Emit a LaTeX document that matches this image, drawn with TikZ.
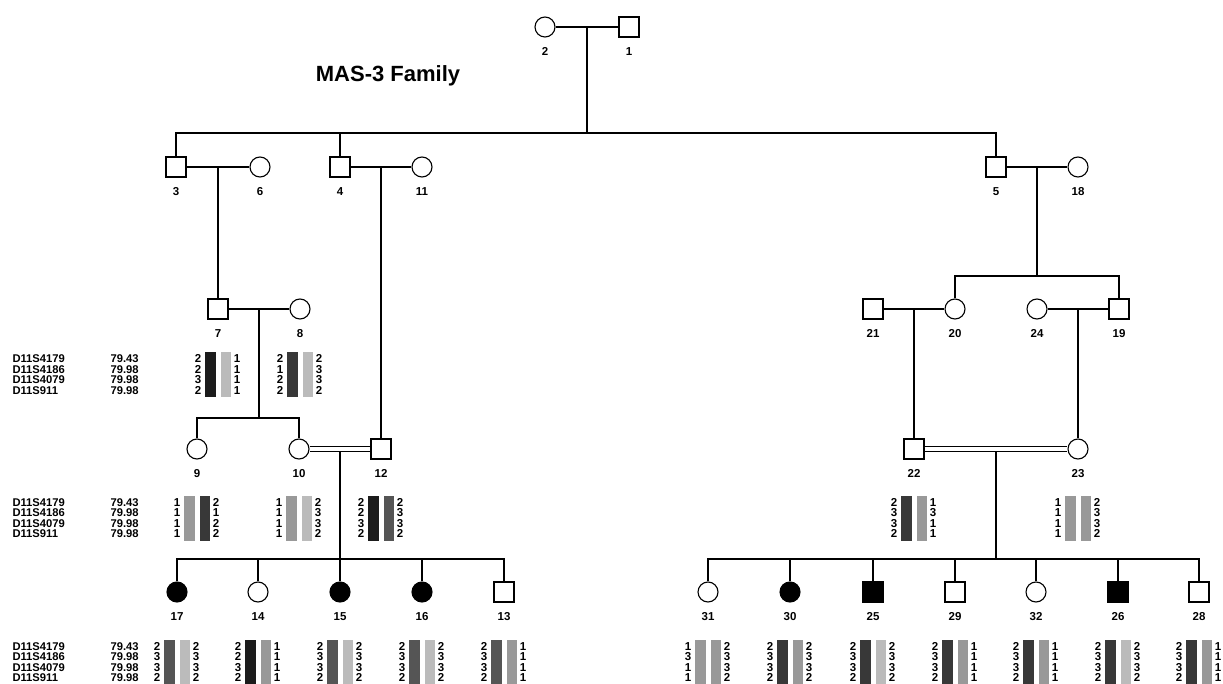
\documentclass[tikz,border=0pt]{standalone}
\usepackage{fontspec}
\setmainfont{Liberation Sans}
\usetikzlibrary{calc}

\definecolor{hapK}{HTML}{1C1C1C}
\definecolor{hapD}{HTML}{383838}
\definecolor{hapG}{HTML}{555555}
\definecolor{hapM}{HTML}{999999}
\definecolor{hapL}{HTML}{BBBBBB}

% haplotype: name, x, y, left alleles, colour 1, colour 2, right alleles
\newcommand{\haplo}[7]{%
  \foreach \a [count=\i] in {#4}
    \node[allele] (#1l\i) at (#2-20,#3+10.5*\i-26.25) {\a};
  \node[hapbar,fill=#5] (#1a) at (#2-7.5,#3) {};
  \node[hapbar,fill=#6] (#1b) at (#2+8,#3) {};
  \foreach \a [count=\i] in {#7}
    \node[allele] (#1r\i) at (#2+19,#3+10.5*\i-26.25) {\a};
}

% marker names and positions: name, y
\newcommand{\markers}[2]{%
  \foreach \mk/\cm [count=\i] in {D11S4179/79.43,D11S4186/79.98,D11S4079/79.98,D11S911/79.98}{
    \node[marker] (#1n\i) at (12,#2+10.5*\i-26.25) {\mk};
    \node[marker] (#1c\i) at (110,#2+10.5*\i-26.25) {\cm};
  }
}

\begin{document}
\begin{tikzpicture}[x=1pt,y=-1pt,line width=1.1pt,
  male/.style={draw,rectangle,minimum size=20pt,inner sep=0pt},
  female/.style={draw,circle,minimum size=20pt,inner sep=0pt},
  affected/.style={fill=black},
  every label/.style={font=\bfseries\fontsize{11.5}{12}\selectfont,inner sep=0pt},
  label distance=9pt,
  allele/.style={font=\bfseries\fontsize{11.5}{11}\selectfont,inner sep=0pt},
  marker/.style={font=\bfseries\fontsize{11.2}{11}\selectfont,inner sep=0pt,anchor=west},
  hapbar/.style={rectangle,draw=none,minimum width=10.5pt,minimum height=45pt,inner sep=0pt},
  marriage/.style={line width=1pt,double,double distance=4pt}]
\useasboundingbox (0,0) rectangle (1223,684);

\node[font=\bfseries\fontsize{22}{24}\selectfont,anchor=base west] (title) at (312,82) {MAS-3 Family};

% generation I
\node[female,label=below:2] (p2) at (545,27) {};
\node[male,label=below:1]   (p1) at (629,27) {};

% generation II
\node[male,label=below:3]    (p3)  at (176,167) {};
\node[female,label=below:6]  (p6)  at (260,167) {};
\node[male,label=below:4]    (p4)  at (340,167) {};
\node[female,label=below:11] (p11) at (422,167) {};
\node[male,label=below:5]    (p5)  at (996,167) {};
\node[female,label=below:18] (p18) at (1078,167) {};

% generation III
\node[male,label=below:7]    (p7)  at (218,309) {};
\node[female,label=below:8]  (p8)  at (300,309) {};
\node[male,label=below:21]   (p21) at (873,309) {};
\node[female,label=below:20] (p20) at (955,309) {};
\node[female,label=below:24] (p24) at (1037,309) {};
\node[male,label=below:19]   (p19) at (1119,309) {};

% generation IV
\node[female,label=below:9]  (p9)  at (197,449) {};
\node[female,label=below:10] (p10) at (299,449) {};
\node[male,label=below:12]   (p12) at (381,449) {};
\node[male,label=below:22]   (p22) at (914,449) {};
\node[female,label=below:23] (p23) at (1078,449) {};

% generation V
\node[female,affected,label=below:17] (p17) at (177,592) {};
\node[female,label=below:14]          (p14) at (258,592) {};
\node[female,affected,label=below:15] (p15) at (340,592) {};
\node[female,affected,label=below:16] (p16) at (422,592) {};
\node[male,label=below:13]            (p13) at (504,592) {};
\node[female,label=below:31]          (p31) at (708,592) {};
\node[female,affected,label=below:30] (p30) at (790,592) {};
\node[male,affected,label=below:25]   (p25) at (873,592) {};
\node[male,label=below:29]            (p29) at (955,592) {};
\node[female,label=below:32]          (p32) at (1036,592) {};
\node[male,affected,label=below:26]   (p26) at (1118,592) {};
\node[male,label=below:28]            (p28) at (1199,592) {};

% couples
\coordinate (m21)   at ($(p2)!.5!(p1)$);
\coordinate (m36)   at ($(p3)!.5!(p6)$);
\coordinate (m411)  at ($(p4)!.5!(p11)$);
\coordinate (m518)  at ($(p5)!.5!(p18)$);
\coordinate (m78)   at ($(p7)!.5!(p8)$);
\coordinate (m2120) at ($(p21)!.5!(p20)$);
\coordinate (m2419) at ($(p24)!.5!(p19)$);
\coordinate (m1012) at ($(p10)!.5!(p12)$);
\coordinate (m2223) at ($(p22)!.5!(p23)$);

% sibship lines
\coordinate (sA) at (587,133);
\coordinate (sB) at (1037,276);
\coordinate (sC) at (259,418);
\coordinate (sD) at (340,559);
\coordinate (sE) at (996,559);

\draw (p2) -- (p1);
\draw (p3) -- (p6);
\draw (p4) -- (p11);
\draw (p5) -- (p18);
\draw (p7) -- (p8);
\draw (p21) -- (p20);
\draw (p24) -- (p19);
\draw[marriage] (p10) -- (p12);
\draw[marriage] (p22) -- (p23);

\draw (m21) -- (sA);
\draw (p3.north) |- (sA) -| (p5.north);
\draw (p4.north) -- (p4.north |- sA);

\draw (m36) -- (p7.north);
\draw (m411) -- (p12.north);
\draw (m518) -- (sB);
\draw (p20.north) |- (sB) -| (p19.north);

\draw (m78) -- (sC);
\draw (p9.north) |- (sC) -| (p10.north);
\draw (m2120) -- (p22.north);
\draw (m2419) -- (p23.north);

\draw ([yshift=-2.5pt]m1012) -- (p15.north);
\draw (p17.north) |- (sD) -| (p13.north);
\foreach \c in {p14,p16} \draw (\c.north) -- (\c.north |- sD);
\draw ([yshift=-2.5pt]m2223) -- (sE);
\draw (p31.north) |- (sE) -| (p28.north);
\foreach \c in {p30,p25,p29,p32,p26} \draw (\c.north) -- (\c.north |- sE);

% markers
\markers{mkA}{374.5}
\markers{mkB}{518}
\markers{mkC}{662}

% haplotypes
\haplo{h7}{218}{374.5}{2,2,3,2}{hapK}{hapL}{1,1,1,1}
\haplo{h8}{300}{374.5}{2,1,2,2}{hapD}{hapL}{2,3,3,2}
\haplo{h9}{197}{518}{1,1,1,1}{hapM}{hapD}{2,1,2,2}
\haplo{h10}{299}{518}{1,1,1,1}{hapM}{hapL}{2,3,3,2}
\haplo{h12}{381}{518}{2,2,3,2}{hapK}{hapG}{2,3,3,2}
\haplo{h22}{914}{518}{2,3,3,2}{hapD}{hapM}{1,3,1,1}
\haplo{h23}{1078}{518}{1,1,1,1}{hapM}{hapM}{2,3,3,2}
\haplo{h17}{177}{662}{2,3,3,2}{hapG}{hapL}{2,3,3,2}
\haplo{h14}{258}{662}{2,2,3,2}{hapK}{hapM}{1,1,1,1}
\haplo{h15}{340}{662}{2,3,3,2}{hapG}{hapL}{2,3,3,2}
\haplo{h16}{422}{662}{2,3,3,2}{hapG}{hapL}{2,3,3,2}
\haplo{h13}{504}{662}{2,3,3,2}{hapG}{hapM}{1,1,1,1}
\haplo{h31}{708}{662}{1,3,1,1}{hapM}{hapM}{2,3,3,2}
\haplo{h30}{790}{662}{2,3,3,2}{hapD}{hapM}{2,3,3,2}
\haplo{h25}{873}{662}{2,3,3,2}{hapD}{hapL}{2,3,3,2}
\haplo{h29}{955}{662}{2,3,3,2}{hapD}{hapM}{1,1,1,1}
\haplo{h32}{1036}{662}{2,3,3,2}{hapD}{hapM}{1,1,1,1}
\haplo{h26}{1118}{662}{2,3,3,2}{hapD}{hapL}{2,3,3,2}
\haplo{h28}{1199}{662}{2,3,3,2}{hapD}{hapM}{1,1,1,1}
\end{tikzpicture}
\end{document}
